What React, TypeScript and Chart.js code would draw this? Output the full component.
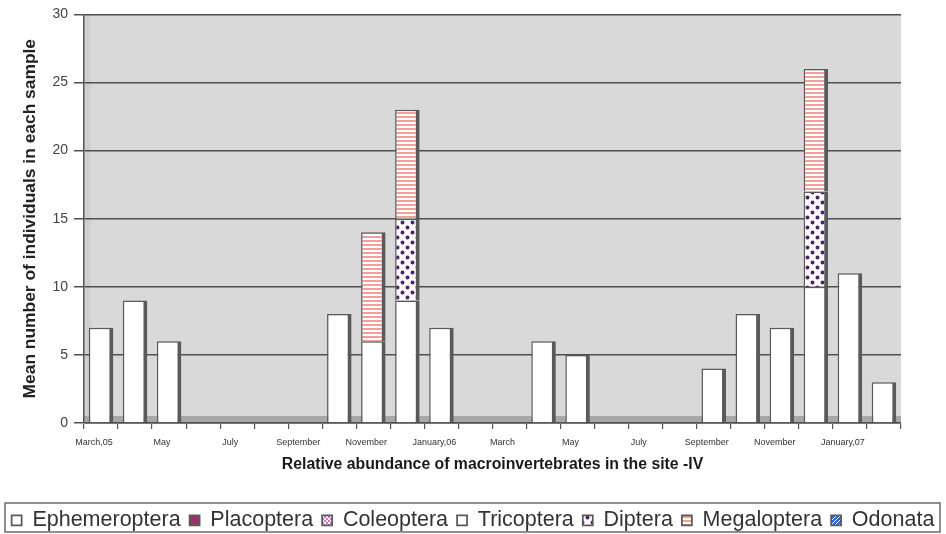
import React, { useEffect, useRef } from 'react';
import { Chart, registerables } from 'chart.js';

Chart.register(...registerables);

const categories = [
  'March,05', 'April', 'May', 'June', 'July', 'August', 'September', 'October',
  'November', 'December', 'January,06', 'February', 'March', 'April', 'May', 'June',
  'July', 'August', 'September', 'October', 'November', 'December', 'January,07', 'February',
];

const xTickLabels = [
  'March,05', '', 'May', '', 'July', '', 'September', '',
  'November', '', 'January,06', '', 'March', '', 'May', '',
  'July', '', 'September', '', 'November', '', 'January,07', '',
];

const ephemeroptera = [7, 9, 6, 0, 0, 0, 0, 8, 6, 9, 7, 0, 0, 6, 5, 0, 0, 0, 4, 8, 7, 10, 11, 3];
const placoptera = [0, 0, 0, 0, 0, 0, 0, 0, 0, 0, 0, 0, 0, 0, 0, 0, 0, 0, 0, 0, 0, 0, 0, 0];
const coleoptera = [0, 0, 0, 0, 0, 0, 0, 0, 0, 0, 0, 0, 0, 0, 0, 0, 0, 0, 0, 0, 0, 0, 0, 0];
const tricoptera = [0, 0, 0, 0, 0, 0, 0, 0, 0, 0, 0, 0, 0, 0, 0, 0, 0, 0, 0, 0, 0, 0, 0, 0];
const diptera = [0, 0, 0, 0, 0, 0, 0, 0, 0, 6, 0, 0, 0, 0, 0, 0, 0, 0, 0, 0, 0, 7, 0, 0];
const megaloptera = [0, 0, 0, 0, 0, 0, 0, 0, 8, 8, 0, 0, 0, 0, 0, 0, 0, 0, 0, 0, 0, 9, 0, 0];
const odonata = [0, 0, 0, 0, 0, 0, 0, 0, 0, 0, 0, 0, 0, 0, 0, 0, 0, 0, 0, 0, 0, 0, 0, 0];

const yTicks = [0, 5, 10, 15, 20, 25, 30];

function tile(w: number, h: number, draw: (g: CanvasRenderingContext2D) => void): CanvasPattern | string {
  const c = document.createElement('canvas');
  c.width = w;
  c.height = h;
  const g = c.getContext('2d');
  if (!g) return '#ffffff';
  draw(g);
  return g.createPattern(c, 'repeat') || '#ffffff';
}

const FONT = 'Liberation Sans, Arial, sans-serif';

export default function App() {
  const ref = useRef<HTMLCanvasElement | null>(null);

  useEffect(() => {
    if (!ref.current) return;

    const stripes = tile(4, 4, (g) => {
      g.fillStyle = '#ffffff';
      g.fillRect(0, 0, 4, 4);
      g.fillStyle = '#f2a09a';
      g.fillRect(0, 0, 4, 2);
    });
    const dots = tile(10, 10, (g) => {
      g.fillStyle = '#ffffff';
      g.fillRect(0, 0, 10, 10);
      g.fillStyle = '#4e1f6e';
      g.beginPath();
      g.arc(2.5, 2.5, 2, 0, Math.PI * 2);
      g.arc(7.5, 7.5, 2, 0, Math.PI * 2);
      g.fill();
    });
    const coleoPattern = tile(4, 4, (g) => {
      g.fillStyle = '#ffffff';
      g.fillRect(0, 0, 4, 4);
      g.fillStyle = '#cc77cc';
      g.fillRect(0, 0, 2, 2);
      g.fillRect(2, 2, 2, 2);
    });
    const odoPattern = tile(4, 4, (g) => {
      g.fillStyle = '#3366cc';
      g.fillRect(0, 0, 4, 4);
      g.strokeStyle = '#ffffff';
      g.lineWidth = 1;
      g.beginPath();
      g.moveTo(0, 4);
      g.lineTo(4, 0);
      g.stroke();
    });

    const border = '#5a5a5a';
    const bw = { top: 1.5, left: 1.5, right: 4, bottom: 0 };

    const bgPlugin = {
      id: 'bgPlugin',
      beforeDraw(chart: any) {
        const { ctx, chartArea } = chart;
        const { left, right, top, bottom } = chartArea;
        ctx.save();
        ctx.fillStyle = '#d9d9d9';
        ctx.fillRect(left, top, right - left, bottom - top);
        ctx.fillStyle = '#cfcfcf';
        ctx.fillRect(left, top, 7, bottom - top);
        ctx.fillStyle = '#a8a8a8';
        ctx.fillRect(left, bottom - 7, right - left, 7);
        ctx.restore();
      },
      afterDraw(chart: any) {
        const { ctx } = chart;
        ctx.save();
        ctx.strokeStyle = '#6a6a6a';
        ctx.lineWidth = 1.5;
        ctx.strokeRect(5, 503, 935, 29);
        ctx.restore();
      },
    };

    const chart = new Chart(ref.current, {
      type: 'bar',
      data: {
        labels: categories,
        datasets: [
          { label: 'Ephemeroptera', data: ephemeroptera, backgroundColor: '#ffffff', borderColor: border, borderWidth: bw },
          { label: 'Placoptera', data: placoptera, backgroundColor: '#993366', borderColor: border, borderWidth: bw },
          { label: 'Coleoptera', data: coleoptera, backgroundColor: coleoPattern as any, borderColor: border, borderWidth: bw },
          { label: 'Tricoptera', data: tricoptera, backgroundColor: '#ffffff', borderColor: border, borderWidth: bw },
          { label: 'Diptera', data: diptera, backgroundColor: dots as any, borderColor: border, borderWidth: bw },
          { label: 'Megaloptera', data: megaloptera, backgroundColor: stripes as any, borderColor: border, borderWidth: bw },
          { label: 'Odonata', data: odonata, backgroundColor: odoPattern as any, borderColor: border, borderWidth: bw },
        ],
      },
      options: {
        animation: false,
        responsive: true,
        maintainAspectRatio: false,
        layout: { padding: { left: 0, right: 0, top: 12, bottom: -7 } },
        plugins: {
          tooltip: { enabled: false },
          legend: {
            position: 'bottom',
            labels: {
              font: { family: FONT, size: 21.5 },
              color: '#333333',
              boxWidth: 10,
              boxHeight: 10,
              padding: 9,
            },
          },
        },
        scales: {
          x: {
            stacked: true,
            offset: true,
            grid: {
              display: true,
              drawOnChartArea: false,
              offset: true,
              color: '#555555',
              tickLength: 6,
              lineWidth: 1.2,
            },
            border: { display: true, color: '#777777', width: 1 },
            ticks: {
              autoSkip: false,
              maxRotation: 0,
              minRotation: 0,
              padding: 8,
              labelOffset: -7,
              color: '#333333',
              font: { family: FONT, size: 9 },
              callback: (_v: any, i: number) => xTickLabels[i],
            },
            categoryPercentage: 1,
            barPercentage: 0.56,
            title: {
              display: true,
              text: 'Relative abundance of macroinvertebrates in the site -IV',
              color: '#1a1a1a',
              font: { family: FONT, size: 15.8, weight: 'bold' },
              padding: { top: 4, bottom: 26 },
            },
            afterFit: (s: any) => {
              s.height = 77.5;
            },
          } as any,
          y: {
            stacked: true,
            min: 0,
            max: 30,
            afterBuildTicks: (s: any) => {
              s.ticks = yTicks.map((v) => ({ value: v }));
            },
            grid: {
              color: '#505050',
              lineWidth: 1.5,
              tickLength: 10,
              drawTicks: true,
            },
            border: { display: true, color: '#555555', width: 1.5 },
            ticks: {
              padding: 6,
              color: '#444444',
              font: { family: FONT, size: 14 },
            },
            title: {
              display: true,
              text: 'Mean number of individuals in each sample',
              color: '#222222',
              font: { family: FONT, size: 17.4, weight: 'bold' },
              padding: { top: 20, bottom: 0 },
            },
            afterFit: (s: any) => {
              s.width = 84;
            },
          } as any,
          yRight: {
            position: 'right',
            display: true,
            grid: { display: false, drawOnChartArea: false },
            border: { display: false },
            ticks: { display: false },
            afterFit: (s: any) => {
              s.width = 45;
            },
          } as any,
        },
      },
      plugins: [bgPlugin],
    });

    return () => chart.destroy();
  }, []);

  return (
    <div style={{ position: 'absolute', left: 0, top: 0, width: 946, height: 534, background: '#ffffff' }}>
      <canvas ref={ref} />
    </div>
  );
}
